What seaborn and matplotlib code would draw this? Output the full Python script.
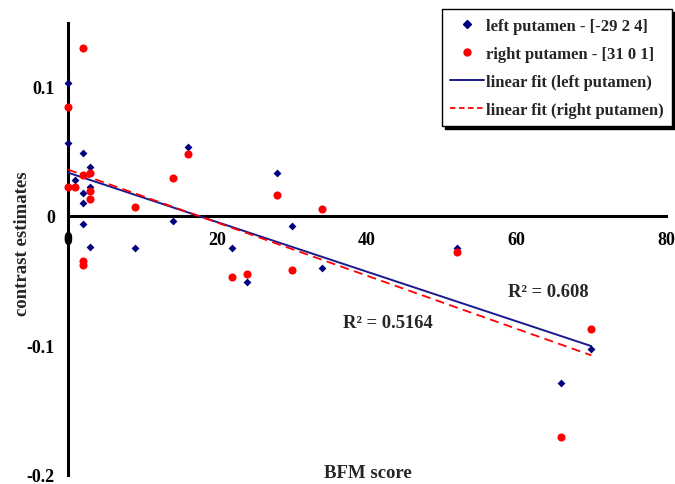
import numpy as np
import pandas as pd
import matplotlib
matplotlib.use("Agg")
import matplotlib.pyplot as plt
import seaborn as sns
from matplotlib.lines import Line2D

# ---- data ----
left_bfm = [0, 0, 1, 2, 2, 2, 2, 3, 3, 3, 9, 14, 16, 22, 24, 28, 30, 34, 52, 66, 70]
left_ce = [0.103, 0.056, 0.028, 0.049, 0.018, 0.010, -0.006, 0.038, 0.022, -0.024,
           -0.025, -0.004, 0.053, -0.025, -0.051, 0.033, -0.008, -0.040, -0.025,
           -0.129, -0.103]
right_bfm = [0, 0, 1, 2, 2, 2, 2, 3, 3, 3, 9, 14, 16, 22, 24, 28, 30, 34, 52, 66, 70]
right_ce = [0.084, 0.022, 0.022, 0.130, 0.032, -0.035, -0.038, 0.033, 0.019, 0.013,
            0.007, 0.029, 0.048, -0.047, -0.045, 0.016, -0.042, 0.005, -0.028,
            -0.171, -0.087]
x_ticks = [0, 20, 40, 60, 80]
y_ticks = [-0.2, -0.1, 0, 0.1]
y_tick_labels = ["-0.2", "-0.1", "0", "0.1"]
series_labels = ["left putamen - [-29 2 4]", "right putamen - [31 0 1]",
                 "linear fit (left putamen)", "linear fit (right putamen)"]
r2_left = "R\u00b2 = 0.608"
r2_right = "R\u00b2 = 0.5164"

left_df = pd.DataFrame({"bfm": left_bfm, "ce": left_ce})
right_df = pd.DataFrame({"bfm": right_bfm, "ce": right_ce})

sns.set_theme(style="white")
plt.rcParams["font.family"] = ["Liberation Serif", "DejaVu Serif"]
plt.rcParams["font.weight"] = "bold"

BLUE = "#00007f"
RED = "#ff0000"

fig = plt.figure(figsize=(6.75, 4.85), dpi=100)
ax = fig.add_axes([68 / 675, 9 / 485, 598 / 675, 452 / 485])

sns.regplot(data=left_df, x="bfm", y="ce", ax=ax, scatter=False, ci=None,
            truncate=True, line_kws=dict(color="#1a1a8c", lw=1.4, zorder=3))
sns.regplot(data=right_df, x="bfm", y="ce", ax=ax, scatter=False, ci=None,
            truncate=True, line_kws=dict(color=RED, lw=1.3, ls=(0, (5, 3)), zorder=3))

sns.scatterplot(data=left_df, x="bfm", y="ce", ax=ax, marker="D", s=16,
                color=BLUE, linewidth=0, clip_on=False, zorder=4)
sns.scatterplot(data=right_df, x="bfm", y="ce", ax=ax, marker="o", s=34,
                color=RED, linewidth=0, clip_on=False, zorder=4)

ax.set_xlim(0, 80)
ax.set_ylim(-0.2, 0.149)
ax.spines["left"].set_position(("data", 0))
ax.spines["bottom"].set_position(("data", 0))
ax.spines["top"].set_visible(False)
ax.spines["right"].set_visible(False)
for s in ("left", "bottom"):
    ax.spines[s].set_linewidth(2.2)
    ax.spines[s].set_color("black")
    ax.spines[s].set_zorder(2)

ax.set_xticks(x_ticks)
ax.set_yticks(y_ticks)
ax.set_yticklabels(y_tick_labels)
ax.tick_params(axis="both", which="major", direction="out", width=2.2,
               color="black", labelsize=13, labelcolor="black")
ax.tick_params(axis="x", length=4.5, pad=6.5)
ax.tick_params(axis="y", length=5, pad=4.5)
for lab in ax.get_xticklabels() + ax.get_yticklabels():
    lab.set_fontweight("bold")

ax.set_xlabel("BFM score", fontsize=13.5, fontweight="bold")
ax.set_ylabel("contrast estimates", fontsize=13.5, fontweight="bold")
ax.xaxis.set_label_coords((368 - 68) / 598, (476 - 474) / 452)
ax.yaxis.set_label_coords((22 - 68) / 598, (476 - 244) / 452)
ax.xaxis.label.set_va("center")
ax.yaxis.label.set_va("center")

ax.text(58.9, -0.058, r2_left, fontsize=13.3, fontweight="bold", va="center", ha="left")
ax.text(36.8, -0.082, r2_right, fontsize=13.3, fontweight="bold", va="center", ha="left")

handles = [
    Line2D([], [], ls="none", marker="D", markersize=4, color=BLUE, mec=BLUE),
    Line2D([], [], ls="none", marker="o", markersize=5, color=RED, mec=RED),
    Line2D([], [], color="#1a1a8c", lw=1.4),
    Line2D([], [], color=RED, lw=1.3, ls=(0, (3, 2))),
]
leg = fig.legend(handles, series_labels, loc="upper right",
                 bbox_to_anchor=(0.996, 0.979), borderaxespad=0,
                 frameon=True, fancybox=False, shadow={"color": "black", "alpha": 1},
                 edgecolor="black", facecolor="white", framealpha=1,
                 prop={"family": "Liberation Serif", "weight": "bold", "size": 12},
                 handlelength=2.0, handletextpad=0.15, labelspacing=0.72,
                 borderpad=0.5)
leg.get_frame().set_linewidth(1.0)

fig.savefig("out.png", dpi=100)
